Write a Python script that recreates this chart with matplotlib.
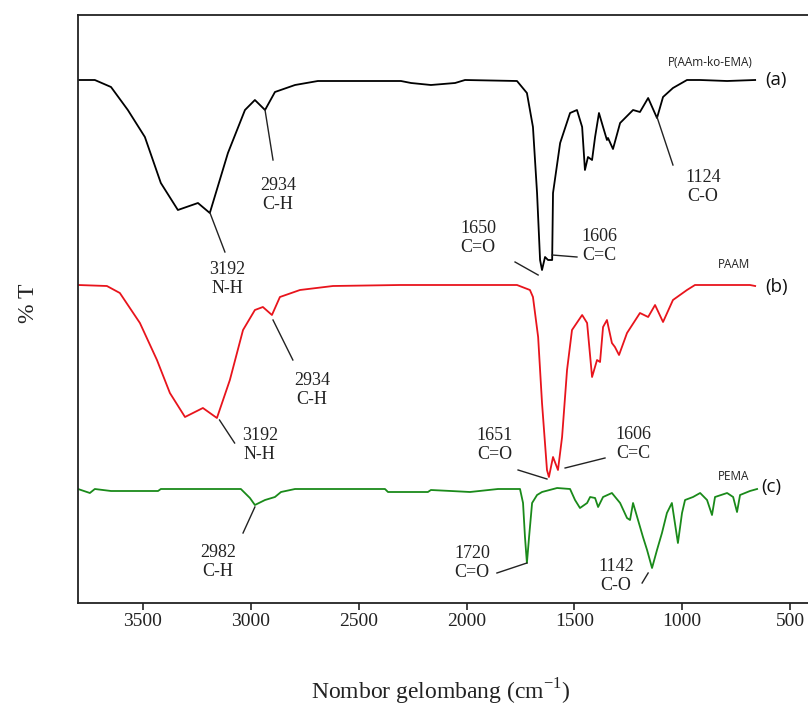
import matplotlib
matplotlib.use("Agg")
import matplotlib.pyplot as plt
import numpy as np

# ---- data (wavenumber cm-1, offset transmittance in arbitrary units) ----
wn_a = [3801, 3723, 3648, 3570, 3491, 3417, 3338, 3245, 3190, 3106, 3027, 2981, 2934,
        2888, 2795, 2689, 2304, 2257, 2165, 2053, 2007, 1766, 1720, 1692, 1673, 1659,
        1650, 1636, 1622, 1603, 1599, 1566, 1520, 1488, 1464, 1451, 1437, 1418, 1404,
        1386, 1367, 1349, 1344, 1321, 1288, 1228, 1196, 1158, 1117, 1089, 1043, 978,
        917, 792, 662]
t_a = [523, 523, 516, 493, 466, 420, 393, 400, 390, 450, 493, 503, 493,
       511, 518, 522, 522, 520, 518, 520, 523, 522, 510, 476, 410, 343,
       333, 346, 343, 343, 410, 460, 490, 493, 476, 433, 446, 443, 466,
       490, 476, 463, 465, 454, 480, 493, 491, 505, 485, 506, 515, 523,
       523, 522, 523]

wn_b = [3801, 3667, 3607, 3514, 3435, 3375, 3305, 3222, 3157, 3097, 3036, 2981, 2944,
        2902, 2865, 2772, 2619, 2308, 2109, 1766, 1706, 1692, 1668, 1650, 1627, 1618,
        1599, 1576, 1557, 1534, 1511, 1464, 1441, 1418, 1395, 1381, 1367, 1349, 1326,
        1312, 1293, 1256, 1196, 1158, 1126, 1089, 1043, 978, 941, 686, 662]
t_b = [318, 317, 310, 280, 243, 210, 186, 195, 185, 223, 273, 293, 296,
       288, 306, 313, 317, 318, 318, 318, 313, 306, 266, 200, 133, 126,
       146, 133, 166, 233, 273, 288, 280, 226, 243, 241, 276, 283, 260,
       256, 248, 270, 290, 286, 298, 281, 303, 313, 318, 318, 317]

wn_c = [3801, 3746, 3723, 3648, 3430, 3417, 3046, 3004, 2981, 2934, 2888, 2860, 2795,
        2378, 2364, 2179, 2165, 2072, 1984, 1854, 1752, 1738, 1729, 1720, 1710, 1696,
        1673, 1650, 1580, 1520, 1497, 1474, 1441, 1427, 1404, 1390, 1367, 1326, 1288,
        1256, 1242, 1228, 1209, 1182, 1163, 1140, 1117, 1094, 1071, 1048, 1034, 1020,
        1001, 987, 950, 917, 885, 862, 848, 792, 764, 746, 732, 686, 653]
t_c = [114, 110, 114, 112, 112, 114, 114, 105, 98, 103, 106, 111, 114,
       114, 111, 111, 113, 112, 111, 114, 114, 100, 66, 40, 66, 100,
       108, 111, 115, 114, 103, 95, 100, 106, 105, 96, 106, 110, 100,
       85, 83, 100, 86, 66, 53, 35, 53, 70, 90, 100, 80, 60,
       90, 103, 106, 110, 103, 88, 106, 110, 106, 91, 108, 112, 114]

xticks = [3500, 3000, 2500, 2000, 1500, 1000, 500]

# peak annotations: (text, text_x, text_y, line_x0, line_y0, line_x1, line_y1)
ann_a = [("3192\nN-H", 3110, 324, 3189, 390, 3120, 351),
         ("2934\nC-H", 2874, 408, 2934, 493, 2897, 443),
         ("1650\nC=O", 1947, 365, 1775, 341, 1668, 328),
         ("1606\nC=C", 1386, 357, 1603, 348, 1488, 346),
         ("1124\nC-O", 904, 416, 1117, 486, 1043, 438)]
ann_b = [("3192\nN-H", 2958, 158, 3145, 183, 3075, 160),
         ("2934\nC-H", 2716, 213, 2897, 283, 2805, 243),
         ("1651\nC=O", 1868, 158, 1761, 133, 1627, 124),
         ("1606\nC=C", 1228, 159, 1543, 135, 1358, 145)]
ann_c = [("2982\nC-H", 3152, 41, 2981, 96, 3036, 70),
         ("1720\nC=O", 1974, 40, 1859, 30, 1720, 40),
         ("1142\nC-O", 1307, 27, 1186, 20, 1158, 30)]

names = [("P(AAm-ko-EMA)", 871, 541, "(a)", 565, 523),
         ("PAAM", 760, 338, "(b)", 565, 316),
         ("PEMA", 764, 126, "(c)", 588, 116)]

colors = ["#000000", "#e8141c", "#1a8a1a"]

fig = plt.figure(figsize=(8.08, 7.09), dpi=100)
ax = fig.add_axes([78 / 808, 106 / 709, 730 / 808, 588 / 709])

for wn, t, c in zip([wn_a, wn_b, wn_c], [t_a, t_b, t_c], colors):
    ax.plot(wn, t, color=c, lw=1.3, solid_joinstyle="round")

serif = "Liberation Serif"
for group in (ann_a, ann_b, ann_c):
    for txt, tx, ty, x0, y0, x1, y1 in group:
        ax.plot([x0, x1], [y0, y1], color="#222222", lw=1.0)
        ax.text(tx, ty, txt, ha="center", va="center", fontsize=13,
                family=serif, color="#222222", linespacing=1.15)

for nm, nx, ny, lab, lx, ly in names:
    ax.text(nx, ny, nm, ha="center", va="center", fontsize=8.5,
            family="Open Sans", color="#222222")
    ax.text(lx, ly, lab, ha="center", va="center", fontsize=13.5,
            family="Open Sans", color="#111111")

ax.set_xlim(3801, 417)
ax.set_ylim(0, 588)
ax.set_xticks(xticks)
ax.set_xticklabels([str(v) for v in xticks], family=serif, fontsize=14)
ax.set_yticks([])
ax.tick_params(axis="x", direction="out", length=5, width=1.2, pad=2, colors="#222222")
ax.spines["right"].set_visible(False)
for s in ["left", "bottom", "top"]:
    ax.spines[s].set_linewidth(1.3)
    ax.spines[s].set_color("#222222")

ax.set_xlabel("Nombor gelombang (cm$^{\\mathregular{-1}}$)", family=serif, fontsize=17,
              color="#222222")
ax.xaxis.label.set_va("center")
ax.xaxis.set_label_coords(0.497, (603 - 692) / 588)
fig.text(28 / 808, 1 - 303 / 709, "% T", rotation=90, ha="center", va="center",
         family=serif, fontsize=17, color="#222222")

fig.savefig("out.png", dpi=100)
